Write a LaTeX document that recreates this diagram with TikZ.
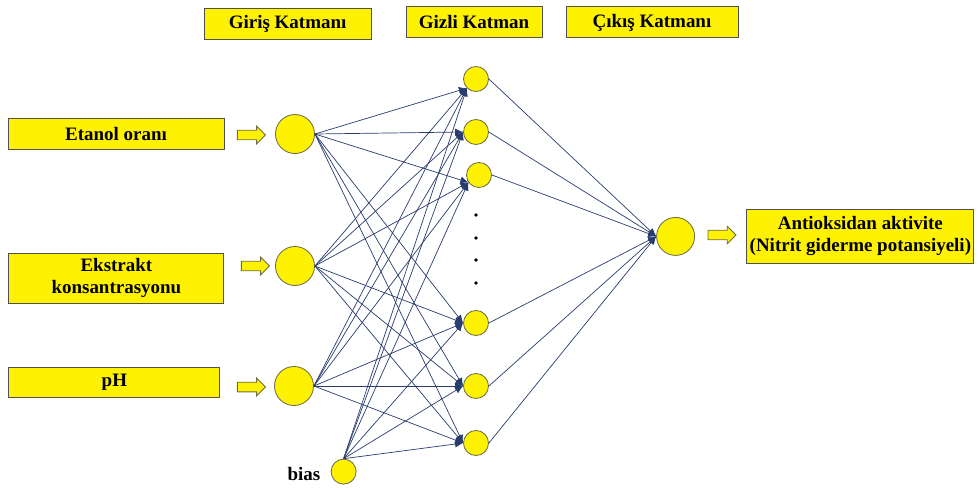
\documentclass[tikz,border=0pt]{standalone}
\usepackage{fontspec}
\setmainfont{Liberation Serif}
\usepackage{xcolor}
\usetikzlibrary{arrows.meta, shapes.arrows, positioning}

\definecolor{linkblue}{RGB}{40,60,110}
\definecolor{circedge}{RGB}{110,110,70}
\definecolor{boxedge}{RGB}{80,80,80}

\begin{document}
\begin{tikzpicture}[>={Latex[length=2mm,width=1.8mm]}]
            %Block styles
            \tikzstyle{layerbox} = [draw=boxedge, fill=yellow, line width=0.7pt, minimum height=0.775cm, inner sep=0pt, align=center, font=\fontsize{13.5}{15.5}\selectfont\bfseries]
            \tikzstyle{neuron} = [draw=circedge, fill=yellow, circle, inner sep=0pt, line width=0.6pt]
            \tikzstyle{feed} = [single arrow, draw=circedge, fill=yellow, minimum height=0.7cm, single arrow head extend=0.1cm, inner xsep=0pt, inner ysep=0.11cm, line width=0.6pt]
            \tikzstyle{link} = [->, draw=linkblue, line width=0.5pt]

            \useasboundingbox (0,0) rectangle (24.45,-12.175);

            %Layer titles
            \node[layerbox, minimum width=4.175cm] at (7.19, -0.59) (giris) {Giriş Katmanı};
            \node[layerbox, minimum width=3.4cm] at (11.85, -0.54) (gizli) {Gizli Katman};
            \node[layerbox, minimum width=4.3cm] at (16.3, -0.56) (cikis) {Çıkış Katmanı};

            %Inputs
            \node[layerbox, minimum width=5.4cm] at (2.9, -3.36) (etanol) {Etanol oranı};
            \node[layerbox, minimum width=5.375cm, minimum height=1.25cm] at (2.91, -6.95) (ekstrakt) {Ekstrakt\\konsantrasyonu};
            \node[layerbox, minimum width=5.275cm, minimum height=0.75cm] at (2.86, -9.55) (ph) {pH};

            \node[feed] at (6.225, -3.375) (feed1) {};
            \node[feed] at (6.325, -6.65) (feed2) {};
            \node[feed] at (6.225, -9.675) (feed3) {};

            \node[neuron, minimum size=0.975cm] at (7.375, -3.35) (in1) {};
            \node[neuron, minimum size=0.975cm] at (7.375, -6.65) (in2) {};
            \node[neuron, minimum size=0.975cm] at (7.35, -9.65) (in3) {};
            \node[neuron, minimum size=0.625cm] at (8.59, -11.79) (bias) {};
            \node[font=\fontsize{13.5}{15.5}\selectfont\bfseries] at (7.6, -11.85) (biastext) {bias};

            %Hidden layer
            \node[neuron, minimum size=0.625cm] at (11.9, -1.975) (h1) {};
            \node[neuron, minimum size=0.625cm] at (11.9, -3.3) (h2) {};
            \node[neuron, minimum size=0.625cm] at (11.975, -4.375) (h3) {};
            \node[neuron, minimum size=0.625cm] at (11.9, -8.075) (h4) {};
            \node[neuron, minimum size=0.625cm] at (11.9, -9.65) (h5) {};
            \node[neuron, minimum size=0.625cm] at (11.9, -11.075) (h6) {};

            \node[circle, fill=black, inner sep=0pt, minimum size=0.09cm] at (11.9, -5.375) (dot1) {};
            \node[circle, fill=black, inner sep=0pt, minimum size=0.09cm] at (11.9, -5.95) (dot2) {};
            \node[circle, fill=black, inner sep=0pt, minimum size=0.09cm] at (11.9, -6.5) (dot3) {};
            \node[circle, fill=black, inner sep=0pt, minimum size=0.09cm] at (11.9, -7.075) (dot4) {};

            %Output
            \node[neuron, minimum size=0.95cm] at (16.89, -5.91) (out) {};
            \node[feed] at (17.99, -5.875) (feed4) {};
            \node[layerbox, minimum width=5.675cm, minimum height=1.35cm] at (21.51, -5.9) (result) {Antioksidan aktivite\\(Nitrit giderme potansiyeli)};

            %Input to hidden
            \draw[link] (in1.east) -- (h1.225);
            \draw[link] (in1.east) -- (h2.west);
            \draw[link] (in1.east) -- (h3.215);
            \draw[link] (in1.east) -- (h4.west);
            \draw[link] (in1.east) -- (h5.west);
            \draw[link] (in1.east) -- (h6.west);
            \draw[link] (in2.east) -- (h1.225);
            \draw[link] (in2.east) -- (h2.west);
            \draw[link] (in2.east) -- (h3.215);
            \draw[link] (in2.east) -- (h4.west);
            \draw[link] (in2.east) -- (h5.west);
            \draw[link] (in2.east) -- (h6.west);
            \draw[link] (in3.east) -- (h1.225);
            \draw[link] (in3.east) -- (h2.west);
            \draw[link] (in3.east) -- (h3.215);
            \draw[link] (in3.east) -- (h4.west);
            \draw[link] (in3.east) -- (h5.west);
            \draw[link] (in3.east) -- (h6.west);
            \draw[link] (bias.north) -- (h1.225);
            \draw[link] (bias.north) -- (h2.west);
            \draw[link] (bias.north) -- (h3.215);
            \draw[link] (bias.north) -- (h4.west);
            \draw[link] (bias.north) -- (h5.west);
            \draw[link] (bias.north) -- (h6.west);

            %Hidden to output
            \draw[link] (h1.east) -- (out.west);
            \draw[link] (h2.east) -- (out.west);
            \draw[link] (h3.east) -- (out.west);
            \draw[link] (h4.east) -- (out.west);
            \draw[link] (h5.east) -- (out.west);
            \draw[link] (h6.east) -- (out.west);
        \end{tikzpicture}
\end{document}
